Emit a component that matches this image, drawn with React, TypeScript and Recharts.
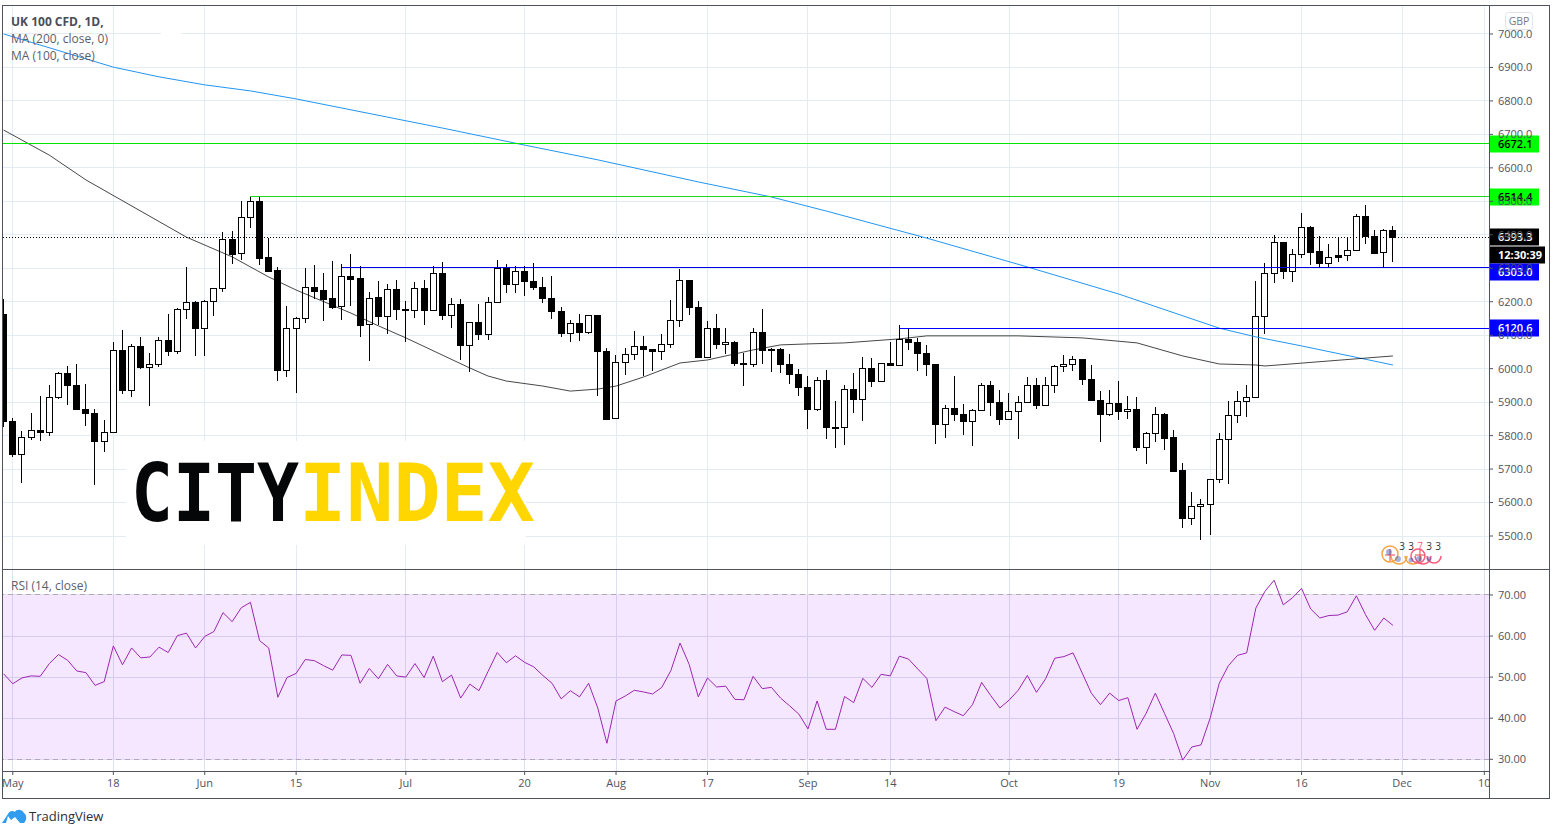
import React from "react";
import {
  ComposedChart, Bar, Line, XAxis, YAxis, CartesianGrid, ReferenceLine, ReferenceArea,
} from "recharts";

const FONT = "'Open Sans', sans-serif";
const AXIS_COLOR = "#50535e";
const GRID = "#e3ecf3";

const opens = [
  6163,5845,5745,5796,5818,5811,5915,5988,5952,5880,
  5868,5784,5811,6057,5937,6069,6005,6015,6087,6053,
  6177,6198,6122,6201,6240,6387,6345,6453,6501,6333,
  6294,5997,6123,6150,6243,6234,6210,6186,6276,6270,
  6132,6215,
  6158,6239,6179,6176,6242,6176,6287,6161,6194,6071,
  6140,6103,6200,6302,6254,6293,6263,6245,6212,6173,
  6107,6137,6110,6161,6053,5852,6019,6044,6067,6059,
  6053,6074,6146,6266,6185,6034,6122,6074,6080,6017,
  6015,6111,6058,6060,6015,5985,5946,5880,5967,5826,
  5826,5940,5910,6003,5964,6018,6012,6090,6081,6048,
  6015,5835,5883,5865,5844,5877,5952,5901,5850,5874,
  5901,5952,5892,5952,6009,6015,6030,5970,5907,5864,
  5898,5874,5880,5766,5809,5865,5795,5696,5555,5591,
  5597,5669,5791,5862,5904,5916,6158,6286,6379,6291,
  6343,6423,6351,6317,6339,6339,6354,6456,6396,6348,
  6414,
];
const highs = [
  6208,5853,5815,5868,5917,5950,5991,6009,6013,5953,
  5880,5848,6081,6117,6075,6094,6046,6094,6163,6180,
  6304,6201,6204,6240,6408,6411,6501,6517,6517,6390,
  6303,6186,6153,6300,6309,6285,6321,6312,6342,6307,
  6228,6263,
  6254,6266,6203,6260,6266,6308,6320,6212,6209,6140,
  6194,6215,6326,6314,6308,6308,6317,6275,6278,6185,
  6146,6164,6161,6161,6062,6041,6062,6113,6098,6059,
  6104,6206,6299,6266,6203,6143,6164,6122,6083,6047,
  6123,6177,6061,6063,6045,6000,5979,5976,5997,5904,
  5952,5988,6036,6033,6018,6081,6129,6121,6093,6072,
  6015,5892,5979,5895,5880,5958,5964,5937,5928,5919,
  5976,5973,5976,6012,6042,6039,6030,6012,5934,5937,
  5964,5919,5916,5812,5886,5868,5818,5719,5632,5610,
  5671,5809,5903,5933,5952,6262,6316,6400,6379,6358,
  6465,6426,6396,6372,6393,6393,6462,6489,6414,6417,
  6426,
];
const lows = [
  5827,5735,5660,5786,5783,5798,5909,5893,5875,5828,
  5654,5753,5811,5927,5918,5999,5888,6005,6038,6044,
  6149,6038,6038,6155,6230,6311,6325,6422,6311,6287,
  5963,5975,5927,6137,6207,6143,6177,6146,6188,6095,
  6023,6132,
  6106,6145,6079,6151,6133,6176,6148,6121,6028,5992,
  6085,6088,6200,6226,6226,6217,6235,6196,6151,6094,
  6079,6082,6103,5920,5851,5852,5980,6025,5977,5992,
  6025,6064,6127,6160,6034,6034,6058,6043,6007,5947,
  6005,6014,5990,5987,5954,5918,5822,5873,5792,5765,
  5774,5867,5846,5945,5964,6008,6012,6056,5993,5978,
  5777,5792,5846,5801,5768,5874,5858,5831,5848,5792,
  5901,5880,5892,5928,5990,5993,5951,5903,5783,5858,
  5846,5850,5756,5715,5781,5757,5694,5524,5533,5488,
  5503,5661,5655,5837,5855,5916,6103,6258,6267,6258,
  6330,6309,6303,6303,6317,6320,6354,6371,6341,6300,
  6318,
];
const closes = [
  5843,5744,5796,5817,5810,5915,5988,5951,5879,5867,
  5783,5811,6057,5936,6069,6005,6015,6087,6053,6177,
  6198,6122,6201,6240,6387,6344,6453,6501,6332,6293,
  5996,6122,6150,6243,6233,6209,6185,6276,6269,6131,
  6212,6157,
  6239,6178,6175,6242,6175,6287,6160,6194,6070,6140,
  6103,6200,6302,6253,6293,6262,6244,6211,6172,6106,
  6137,6109,6161,6052,5851,6019,6043,6067,6059,6053,
  6073,6146,6265,6184,6034,6121,6073,6079,6016,6013,
  6111,6056,6055,6014,5984,5945,5879,5967,5825,5824,
  5940,5909,6003,5963,6018,6011,6090,6080,6047,6014,
  5834,5883,5864,5843,5877,5952,5900,5849,5874,5901,
  5952,5891,5952,6009,6015,6030,5969,5906,5864,5898,
  5873,5880,5765,5809,5865,5793,5694,5554,5591,5597,
  5669,5791,5862,5904,5916,6158,6286,6379,6291,6343,
  6423,6350,6317,6335,6335,6354,6456,6395,6347,6414,
  6393.3,
];
const rsi = [
  50.8,48.4,49.8,50.3,50.2,53.3,55.5,54.1,51.5,51.1,
  48.0,48.9,57.6,53.0,57.1,54.7,54.9,57.3,56.0,60.1,
  60.7,57.1,59.9,61.1,65.7,63.5,66.9,68.2,58.9,57.1,
  45.1,49.9,50.9,54.3,54.0,52.8,51.7,55.4,55.3,48.5,
  52.1,49.6,53.1,50.3,50.0,53.3,49.9,55.1,48.9,50.5,
  44.9,48.3,46.7,51.4,56.0,53.5,55.2,53.6,52.5,50.4,
  48.5,44.7,46.7,45.2,48.5,42.5,33.9,44.2,45.4,46.8,
  46.4,45.9,47.5,51.6,58.3,53.1,45.2,49.8,47.6,47.8,
  44.6,44.5,50.2,47.2,47.5,44.9,43.0,41.0,37.4,44.2,
  37.3,37.3,45.3,43.8,49.7,47.5,50.7,50.3,55.1,54.4,
  52.0,49.7,39.4,42.7,41.6,40.6,43.3,48.7,45.5,42.5,
  44.4,46.8,50.4,46.3,49.6,54.6,55.0,55.9,51.0,46.1,
  43.3,46.1,44.3,45.0,37.3,41.2,46.1,41.2,36.3,29.8,
  33.0,33.5,40.0,48.5,52.8,55.3,55.9,66.8,70.9,73.6,
  67.6,69.3,71.6,66.6,64.4,65.0,65.1,65.9,69.8,65.2,
  61.4,64.4,62.6,
];
const FIRST_BAR = -1;

const ma200Bars = [-1,11,16,21,26,31,47,56,64,75,83,89,100,111,121,132,136,141,151];
const ma200Vals = [7000,6901,6872,6848,6830,6806,6719,6668,6624,6558,6513,6471,6390,6304,6223,6121,6095,6068,6011];
const ma100Bars = [-1,4,8,19,24,28,31,37,40,43,50,52,54,58,61,64,66,69,73,76,81,84,87,91,97,100,110,117,123,128,132,136,137,151];
const ma100Vals = [6713,6638,6564,6393,6334,6274,6235,6166,6128,6092,6002,5978,5963,5948,5933,5939,5948,5975,6017,6026,6056,6071,6074,6077,6089,6098,6098,6092,6077,6038,6014,6011,6008,6038];

const timeTickBars = [0,11,21,31,43,56,66,76,87,96,109,121,131,141,152,161];
const timeTickLabels = ["May","18","Jun","15","Jul","20","Aug","17","Sep","14","Oct","19","Nov","16","Dec","10"];
const priceTicks = [5500,5600,5700,5800,5900,6000,6100,6200,6300,6400,6500,6600,6700,6800,6900,7000];
const rsiTicks = [30,40,50,60,70];

const X_DOMAIN: [number, number] = [-1.072, 161.51];

const priceRows = opens.map((o, k) => {
  const i = k + FIRST_BAR;
  const a = ma200Bars.indexOf(i);
  const b = ma100Bars.indexOf(i);
  return {
    i, o, h: highs[k], l: lows[k], c: closes[k],
    ma200: a >= 0 ? ma200Vals[a] : null,
    ma100: b >= 0 ? ma100Vals[b] : null,
  };
});
const rsiRows = rsi.map((v, k) => ({ i: k + FIRST_BAR, v }));

function Candle(props: any) {
  const { x, y, width, height, payload } = props;
  const { o, h, l, c } = payload;
  const cx = Math.floor(x + width / 2);
  const k = height / (h - l);
  const top = Math.round(y + (h - Math.max(o, c)) * k);
  const bot = Math.round(y + (h - Math.min(o, c)) * k);
  const up = c >= o;
  return (
    <g shapeRendering="crispEdges">
      <rect x={cx} y={Math.round(y)} width={1} height={Math.max(1, Math.round(height))} fill="#000" />
      {up ? (
        <rect x={cx - 2.5} y={top + 0.5} width={6} height={Math.max(1, bot - top)} fill="#fff" stroke="#000" strokeWidth={1} />
      ) : (
        <rect x={cx - 3} y={top} width={7} height={Math.max(2, bot - top + 1)} fill="#000" />
      )}
    </g>
  );
}

function PriceTag(props: any) {
  const { viewBox, text, bg, fg, dy = 0, tagW = 50, bold } = props;
  if (!viewBox) return null;
  const right = viewBox.x + viewBox.width;
  const cy = Math.round(viewBox.y + viewBox.height / 2 + dy);
  return (
    <g>
      <rect x={right} y={cy - 8.5} width={tagW} height={17} fill={bg} />
      <text x={right + 9} y={cy + 4} fontSize={11} fontFamily={FONT} fontWeight={bold ? 700 : 600} fill={fg}>{text}</text>
    </g>
  );
}

function Overlay() {
  const c = AXIS_COLOR;
  return (
    <svg width={1556} height={835} style={{ position: "absolute", left: 0, top: 0, pointerEvents: "none" }}>
      {/* mask outside the frame */}
      <rect x={0} y={0} width={2.5} height={800} fill="#fff" />
      <rect x={1490} y={772} width={59} height={26} fill="#fff" />
      {/* legend */}
      <rect x={161} y={31} width={20} height={3} fill="#fff" />
      <text x={11} y={26} fontSize={12} fontWeight={700} fontFamily={FONT} fill="#4a4d57">UK 100 CFD, 1D,</text>
      <text x={11} y={43} fontSize={12} fontFamily={FONT} fill="#5d606b">MA (200, close, 0)</text>
      <text x={11} y={60} fontSize={12} fontFamily={FONT} fill="#5d606b">MA (100, close)</text>
      <text x={11} y={590} fontSize={12} fontFamily={FONT} fill="#5d606b">RSI (14, close)</text>
      {/* logo */}
      <rect x={126} y={441} width={400} height={104} fill="#fff" />
      <text x={131} y={521} fontSize={80} fontWeight={700} fontFamily="'DejaVu Sans Mono', monospace" fill="#050608" textLength={168} lengthAdjust="spacingAndGlyphs">CITY</text>
      <text x={299} y={521} fontSize={80} fontWeight={700} fontFamily="'DejaVu Sans Mono', monospace" fill="#ffd600" textLength={236} lengthAdjust="spacingAndGlyphs">INDEX</text>
      {/* event badges */}
      <g fill="none" strokeWidth={1.5}>
        <circle cx={1390} cy={554} r={8} stroke="#f7a440" />
        <path d="M1391 556 a8 8 0 0 0 16 0" stroke="#f7a440" />
        <path d="M1405 556 a8 8 0 0 0 16 0" stroke="#f7a440" />
        <circle cx={1418} cy={556} r={7} stroke="#ff5c7c" />
        <path d="M1415 556 a8 8 0 0 0 16 0" stroke="#ff5c7c" />
        <path d="M1427 556 a7 7 0 0 0 14 0" stroke="#ff5c7c" />
        <path d="M1390 549 v12 M1385 555 h10 M1420 549 v12 M1415 555 h10" stroke="#e5404f" strokeWidth={1} />
      </g>
      <g fill="#3f51b5" fontSize={4}>
        <circle cx={1389} cy={552} r={3} fillOpacity={0.45} />
        <circle cx={1398} cy={559} r={3} fillOpacity={0.45} />
        <circle cx={1411} cy={560} r={2.5} fillOpacity={0.45} />
        <circle cx={1419} cy={559} r={3} fillOpacity={0.45} />
        <circle cx={1429} cy={559} r={2.5} fillOpacity={0.45} />
      </g>
      <g fontSize={10} fontFamily={FONT} fill="#333" textAnchor="middle">
        <text x={1402} y={550}>3</text>
        <text x={1411} y={550}>3</text>
        <text x={1420} y={550} fill="#ff5c7c">7</text>
        <text x={1429} y={550}>3</text>
        <text x={1438} y={550}>3</text>
      </g>
      {/* frame */}
      <g stroke={c} strokeWidth={1} shapeRendering="crispEdges" fill="none">
        <rect x={2.5} y={5.5} width={1547} height={793} />
        <path d="M1489.5 5.5 V798.5 M2.5 569.5 H1549.5 M2.5 771.5 H1489.5" />
      </g>
      {/* currency */}
      <rect x={1505.5} y={12.5} width={27} height={17} rx={3} fill="#fff" stroke="#e0e3eb" />
      <text x={1519} y={25} fontSize={10.5} textAnchor="middle" fontFamily={FONT} fill="#777a85">GBP</text>
      {/* brand */}
      <g fill="#2f9cf0">
        <path d="M2 823 L8 814 C9 811 13 810 15 812 C16 809 22 809 24 813 C27 815 27 820 24 823 L20 823 L15 817 L11 820 L8 816 L6 823 Z" />
      </g>
      <text x={29} y={821} fontSize={13} fontFamily={FONT} fill="#2a2e39">TradingView</text>
    </svg>
  );
}

export default function App() {
  return (
    <div style={{ position: "absolute", left: 0, top: 0, width: 1556, height: 835, overflow: "hidden", background: "#fff" }}>
      <div style={{ position: "absolute", left: 0, top: 0 }}>
        <ComposedChart width={1556} height={570} data={priceRows} margin={{ top: 6, right: 0, bottom: 1, left: 3 }} barSize={7}>
          <CartesianGrid stroke={GRID} strokeWidth={1} shapeRendering="crispEdges" verticalValues={timeTickBars} horizontalValues={priceTicks} />
          <XAxis dataKey="i" type="number" domain={X_DOMAIN} ticks={timeTickBars} hide allowDataOverflow />
          <YAxis
            orientation="right" width={67} domain={[5401.4, 7083.66]} ticks={priceTicks} interval={0}
            allowDataOverflow axisLine={false} tickSize={4} tickMargin={5} stroke={AXIS_COLOR}
            tick={{ fontSize: 11, fontFamily: FONT, fill: AXIS_COLOR }}
            tickFormatter={(v: number) => v.toFixed(1)}
          />
          <ReferenceLine y={6393.3} stroke="#000" strokeDasharray="1 2" shapeRendering="crispEdges" />
          <Bar dataKey={(d: any) => [d.l, d.h]} shape={<Candle />} isAnimationActive={false} />
          <Line dataKey="ma200" stroke="#2196f3" strokeWidth={1} dot={false} connectNulls isAnimationActive={false} />
          <Line dataKey="ma100" stroke="#000" strokeOpacity={0.72} strokeWidth={1} dot={false} connectNulls isAnimationActive={false} />
          <ReferenceLine y={6672.1} stroke="#00e600" shapeRendering="crispEdges" />
          <ReferenceLine segment={[{ x: 26, y: 6514.4 }, { x: 161.51, y: 6514.4 }]} stroke="#20d820" shapeRendering="crispEdges" />
          <ReferenceLine segment={[{ x: 36, y: 6303 }, { x: 161.51, y: 6303 }]} stroke="#0000e0" shapeRendering="crispEdges" />
          <ReferenceLine segment={[{ x: 97, y: 6120.6 }, { x: 161.51, y: 6120.6 }]} stroke="#0000ff" shapeRendering="crispEdges" />
          <ReferenceLine y={6672.1} stroke="none" label={<PriceTag text="6672.1" bg="#00ff00" fg="#000" />} />
          <ReferenceLine y={6514.4} stroke="none" label={<PriceTag text="6514.4" bg="#00ff00" fg="#000" />} />
          <ReferenceLine y={6120.6} stroke="none" label={<PriceTag text="6120.6" bg="#0000ff" fg="#fff" />} />
          <ReferenceLine y={6393.3} stroke="none" label={<PriceTag text="12:30:39" bg="#000" fg="#fff" dy={18} tagW={56} bold />} />
          <ReferenceLine y={6393.3} stroke="none" label={<PriceTag text="6393.3" bg="#000" fg="#fff" />} />
          <ReferenceLine y={6303} stroke="none" label={<PriceTag text="6303.0" bg="#0000ff" fg="#fff" dy={5} />} />
        </ComposedChart>
      </div>
      <div style={{ position: "absolute", left: 0, top: 570 }}>
        <ComposedChart width={1556} height={265} data={rsiRows} margin={{ top: 0, right: 0, bottom: 37, left: 3 }}>
          <CartesianGrid stroke="#dde0f0" strokeWidth={1} shapeRendering="crispEdges" verticalValues={timeTickBars} horizontalValues={rsiTicks} />
          <XAxis
            dataKey="i" type="number" domain={X_DOMAIN} ticks={timeTickBars} interval={0} height={27}
            allowDataOverflow axisLine={false} tickSize={4} tickMargin={4} stroke={AXIS_COLOR}
            tick={{ fontSize: 11, fontFamily: FONT, fill: AXIS_COLOR }}
            tickFormatter={(v: number) => timeTickLabels[timeTickBars.indexOf(v)]}
          />
          <YAxis
            orientation="right" width={67} domain={[27.15, 76.08]} ticks={rsiTicks} interval={0}
            allowDataOverflow axisLine={false} tickSize={4} tickMargin={5} stroke={AXIS_COLOR}
            tick={{ fontSize: 11, fontFamily: FONT, fill: AXIS_COLOR }}
            tickFormatter={(v: number) => v.toFixed(2)}
          />
          <ReferenceArea y1={30} y2={70} fill="#9915ff" fillOpacity={0.1} stroke="none" />
          <ReferenceLine y={70} stroke="#b4a8b8" strokeDasharray="5 4" shapeRendering="crispEdges" />
          <ReferenceLine y={30} stroke="#b4a8b8" strokeDasharray="5 4" shapeRendering="crispEdges" />
          <Line dataKey="v" stroke="#9c27b0" strokeWidth={1} dot={false} isAnimationActive={false} />
        </ComposedChart>
      </div>
      <Overlay />
    </div>
  );
}
